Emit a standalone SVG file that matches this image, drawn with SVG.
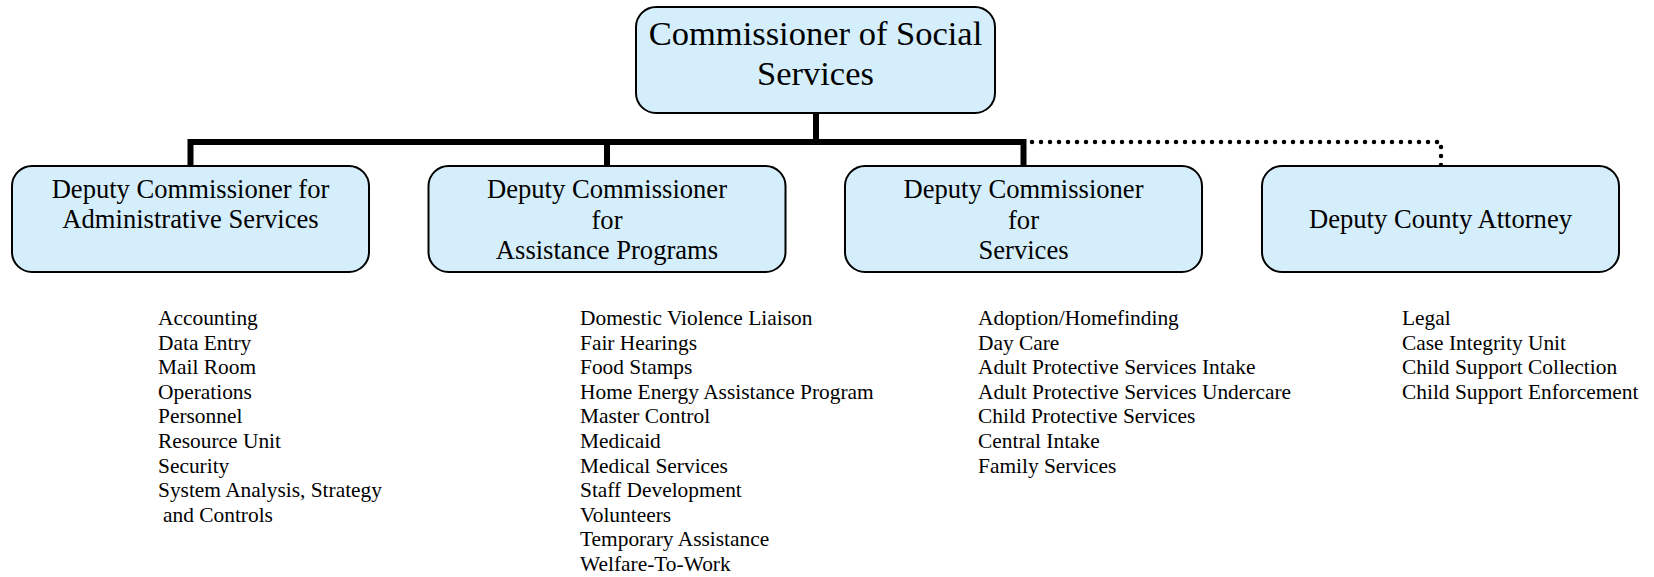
<svg xmlns="http://www.w3.org/2000/svg" width="1654" height="577" viewBox="0 0 1654 577">
<style>
.box{fill:#D5EEFB;stroke:#000;stroke-width:2}
.t{font-family:"Liberation Serif","Times New Roman",serif;fill:#000}
.big{font-size:34.5px;text-anchor:middle}
.mid{font-size:26.6px;text-anchor:middle}
.lst{font-size:21.4px}
.solid{fill:none;stroke:#000;stroke-width:6}
.dot{fill:none;stroke:#000;stroke-width:4.5;stroke-linecap:round;stroke-dasharray:0 9}
</style>
<rect width="1654" height="577" fill="#fff"/>
<g id="connectors">
<path class="dot" d="M816 142 H1441 V166"/>
<path class="solid" d="M816 113 V142 M190.5 166 V142 H1023.5 V166 M607 142 V166"/>
</g>
<g id="commissioner">
<rect class="box" x="636" y="7" width="359" height="106" rx="20"/>
<text class="t big" x="815.5" y="45">Commissioner of Social</text>
<text class="t big" x="815.5" y="85">Services</text>
</g>
<g id="deputy-admin">
<rect class="box" x="12" y="166" width="357" height="106" rx="20"/>
<text class="t mid" x="190.5" y="198">Deputy Commissioner for</text>
<text class="t mid" x="190.5" y="228">Administrative Services</text>
</g>
<g id="deputy-assistance">
<rect class="box" x="428.5" y="166" width="357" height="106" rx="20"/>
<text class="t mid" x="607" y="198">Deputy Commissioner</text>
<text class="t mid" x="607" y="228.5">for</text>
<text class="t mid" x="607" y="259">Assistance Programs</text>
</g>
<g id="deputy-services">
<rect class="box" x="845" y="166" width="357" height="106" rx="20"/>
<text class="t mid" x="1023.5" y="198">Deputy Commissioner</text>
<text class="t mid" x="1023.5" y="228.5">for</text>
<text class="t mid" x="1023.5" y="259">Services</text>
</g>
<g id="deputy-attorney">
<rect class="box" x="1262" y="166" width="357" height="106" rx="20"/>
<text class="t mid" x="1440.5" y="228">Deputy County Attorney</text>
</g>
<g id="list-admin" class="t lst">
<text x="158" y="325">Accounting</text>
<text x="158" y="349.6">Data Entry</text>
<text x="158" y="374.2">Mail Room</text>
<text x="158" y="398.8">Operations</text>
<text x="158" y="423.4">Personnel</text>
<text x="158" y="448">Resource Unit</text>
<text x="158" y="472.6">Security</text>
<text x="158" y="497.2">System Analysis, Strategy</text>
<text x="163" y="521.8">and Controls</text>
</g>
<g id="list-assistance" class="t lst">
<text x="580" y="325">Domestic Violence Liaison</text>
<text x="580" y="349.6">Fair Hearings</text>
<text x="580" y="374.2">Food Stamps</text>
<text x="580" y="398.8">Home Energy Assistance Program</text>
<text x="580" y="423.4">Master Control</text>
<text x="580" y="448">Medicaid</text>
<text x="580" y="472.6">Medical Services</text>
<text x="580" y="497.2">Staff Development</text>
<text x="580" y="521.8">Volunteers</text>
<text x="580" y="546.4">Temporary Assistance</text>
<text x="580" y="571">Welfare-To-Work</text>
</g>
<g id="list-services" class="t lst">
<text x="978" y="325">Adoption/Homefinding</text>
<text x="978" y="349.6">Day Care</text>
<text x="978" y="374.2">Adult Protective Services Intake</text>
<text x="978" y="398.8">Adult Protective Services Undercare</text>
<text x="978" y="423.4">Child Protective Services</text>
<text x="978" y="448">Central Intake</text>
<text x="978" y="472.6">Family Services</text>
</g>
<g id="list-attorney" class="t lst">
<text x="1402" y="325">Legal</text>
<text x="1402" y="349.6">Case Integrity Unit</text>
<text x="1402" y="374.2">Child Support Collection</text>
<text x="1402" y="398.8">Child Support Enforcement</text>
</g>
</svg>
